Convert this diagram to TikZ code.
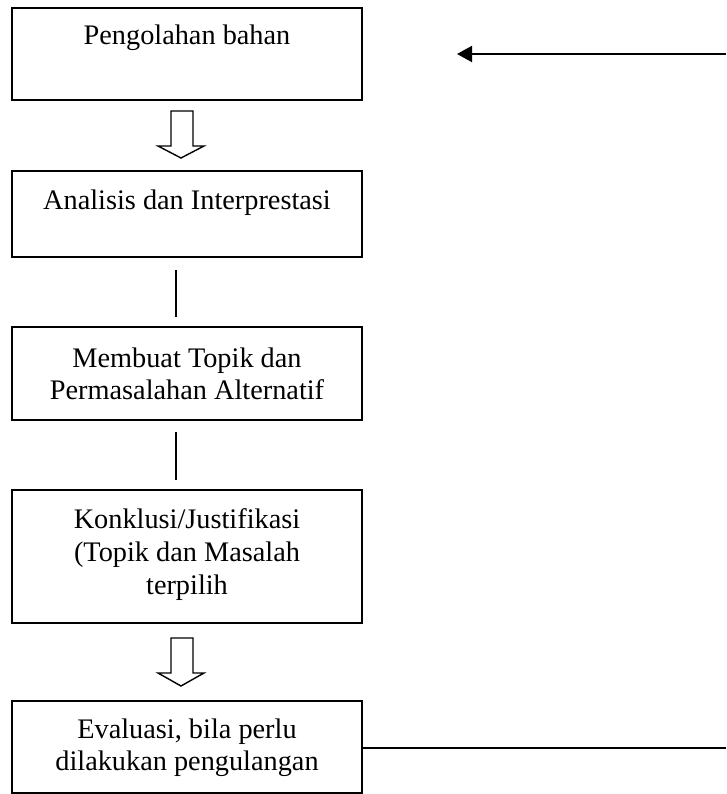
\documentclass[tikz,border=0pt]{standalone}
\usepackage{fontspec}
\setmainfont{Liberation Serif}
\usetikzlibrary{arrows.meta}
\begin{document}
\begin{tikzpicture}[x=1pt, y=-1pt,
  stagebox/.style={draw, line width=2pt, inner sep=0pt, minimum width=350pt},
  lbl/.style={inner sep=0pt, anchor=base, font=\fontsize{28.3}{32.5}\selectfont},
  link/.style={line width=2pt},
  hollow/.style={draw, line width=1.4pt, fill=white, line join=miter},
  feedback/.style={line width=2pt, -{Triangle[length=15pt, width=16pt]}}
]
\useasboundingbox (0,0) rectangle (726,794);

% process stages
\node[stagebox, minimum height=92.5pt] (b1) at (187,54.25) {};
\node[stagebox, minimum height=85.7pt] (b2) at (187,213.85) {};
\node[stagebox, minimum height=92.3pt] (b3) at (187,373.35) {};
\node[stagebox, minimum height=132.7pt] (b4) at (187,556.35) {};
\node[stagebox, minimum height=92pt] (b5) at (187,747) {};

% stage texts
\node[lbl] (t1) at (187,45) {Pengolahan bahan};
\node[lbl] (t2) at (187,210) {Analisis dan Interprestasi};
\node[lbl] (t3a) at (187,367) {Membuat Topik dan};
\node[lbl] (t3b) at (187,399) {Permasalahan Alternatif};
\node[lbl] (t4a) at (187,528) {Konklusi/Justifikasi};
\node[lbl] (t4b) at (187,561) {(Topik dan Masalah};
\node[lbl] (t4c) at (187,594) {terpilih};
\node[lbl] (t5a) at (187,738) {Evaluasi, bila perlu};
\node[lbl] (t5b) at (187,770.5) {dilakukan pengulangan};

% hollow down arrows
\draw[hollow] (171,111) -- (193,111) -- (193,146) -- (204,146) -- (181,158)
  -- (158,146) -- (171,146) -- cycle;
\draw[hollow] (171,638) -- (193,638) -- (193,673) -- (204,673) -- (181,686)
  -- (158,673) -- (171,673) -- cycle;

% plain links between stages
\coordinate (l1a) at (176,270);
\coordinate (l1b) at (176,317);
\coordinate (l2a) at (176,432);
\coordinate (l2b) at (176,480);
\draw[link] (l1a) -- (l1b);
\draw[link] (l2a) -- (l2b);

% feedback loop from evaluation back to material processing
\coordinate (fbout) at (726,747.5);
\coordinate (fbin) at (726,54);
\coordinate (fbtip) at (457,54);
\draw[link] (b5.east |- fbout) -- (fbout);
\draw[feedback] (fbin) -- (fbtip);
\end{tikzpicture}
\end{document}
